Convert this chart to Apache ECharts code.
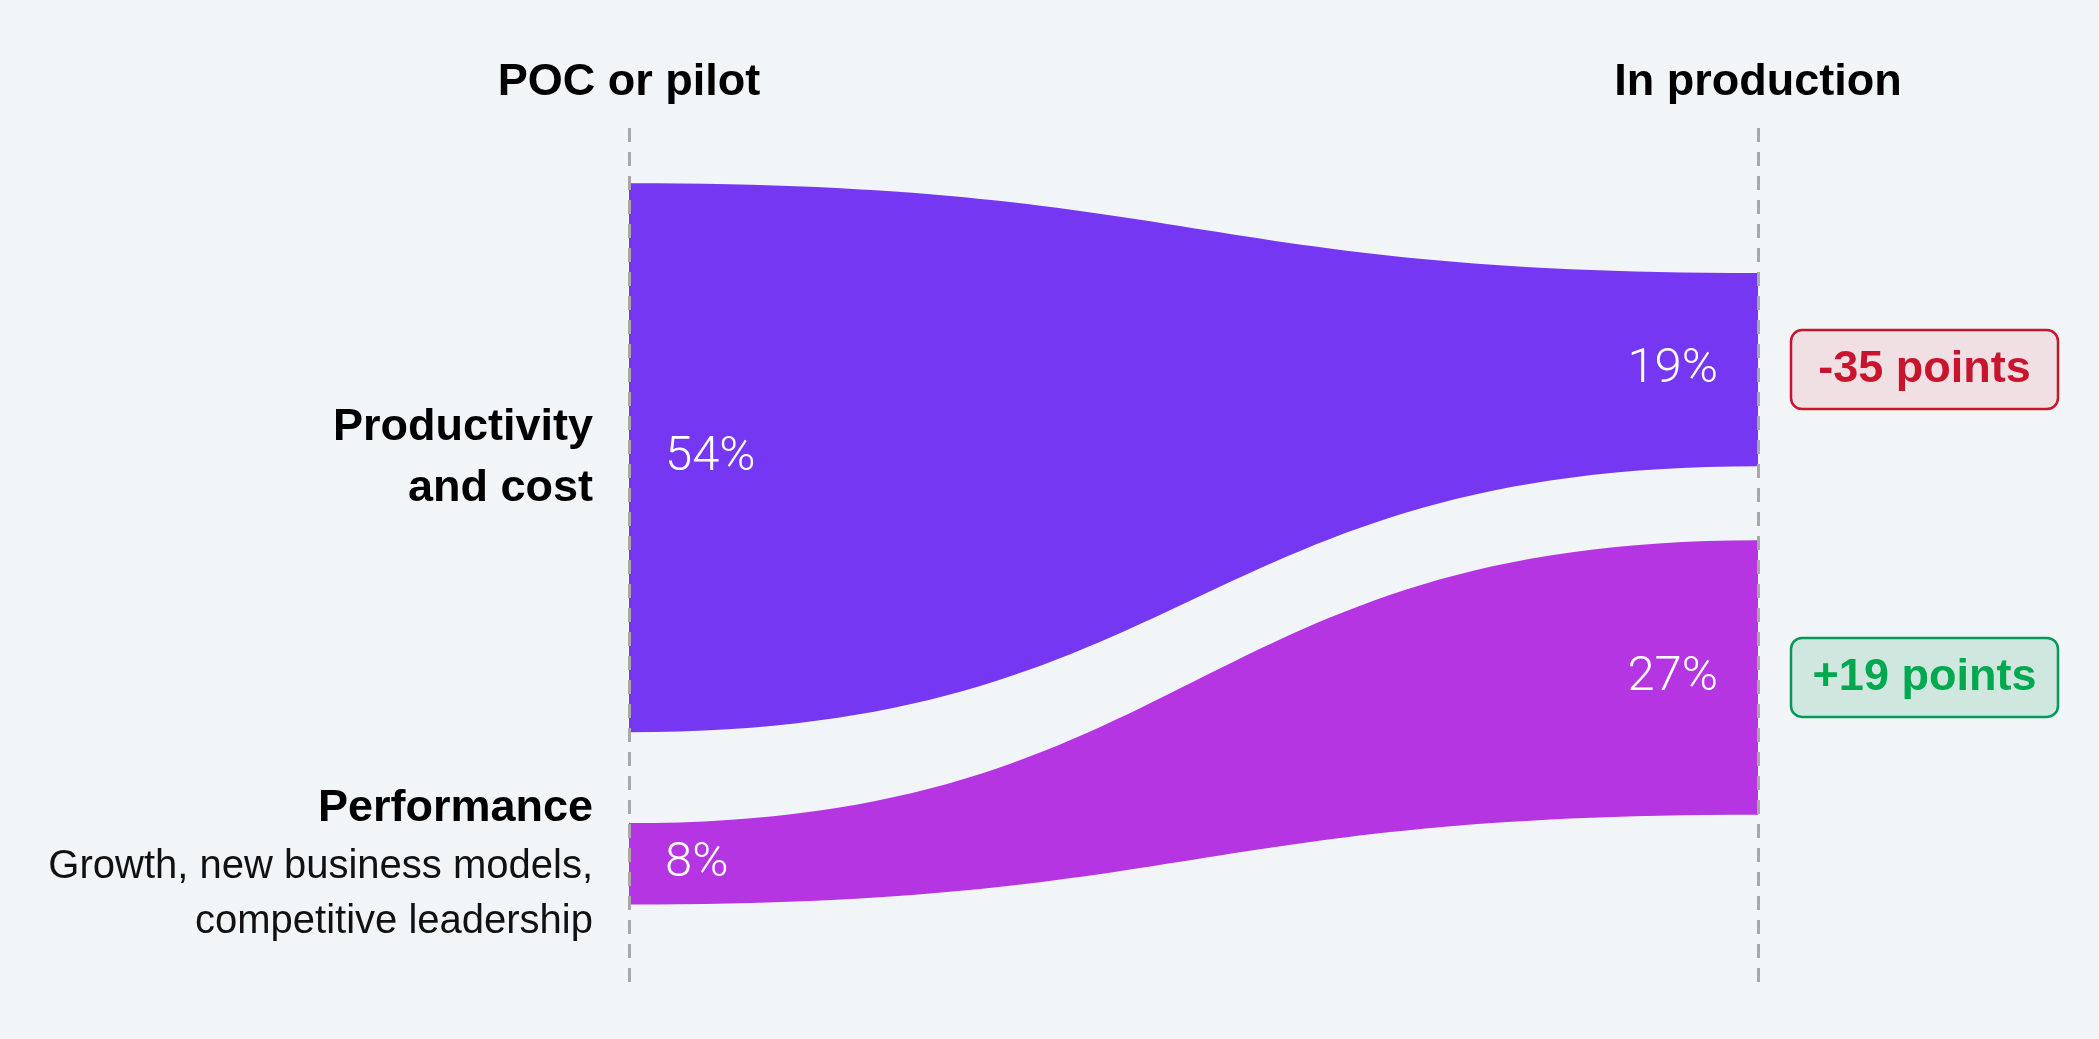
<!DOCTYPE html>
<html>
<head>
<meta charset="UTF-8">
<title>Focus shift</title>
<script src="https://cdn.jsdelivr.net/npm/echarts@6/dist/echarts.min.js"></script>
<style>
  html, body { margin: 0; padding: 0; background: #f2f5f8; }
  #main { width: 2099px; height: 1039px; }
</style>
</head>
<body>
<div id="main"></div>
<script>
// data
var stages = ['POC or pilot', 'In production'];
var groups = ['Productivity\nand cost', 'Performance'];
var groupNotes = ['', 'Growth, new business models,\ncompetitive leadership'];
var pocShare = [54, 8];
var prodShare = [19, 27];
var bandColors = ['#7537f2', '#b435e1'];

// layout (data units = percentage points)
var Y_MAX = 84.2;
var CENTER = 40.9;
var GAP_LEFT = 8.95;
var GAP_RIGHT = 7.28;
var FONT = '"Liberation Sans", Arial, Helvetica, sans-serif';
var LIGHT_FONT = 'Roboto, "Liberation Sans", Arial, sans-serif';

function stackTops(vals, gap) {
  var total = gap * (vals.length - 1);
  vals.forEach(function (v) { total += v; });
  var y = CENTER - total / 2;
  return vals.map(function (v) { var t = y; y += v + gap; return t; });
}
var leftTops = stackTops(pocShare, GAP_LEFT);
var rightTops = stackTops(prodShare, GAP_RIGHT);

var chart = echarts.init(document.getElementById('main'));

function renderBand(params, api) {
  var i = params.dataIndex;
  var lv = api.value(1), rv = api.value(2);
  var p0 = api.coord([0, leftTops[i]]);
  var p1 = api.coord([0, leftTops[i] + lv]);
  var q0 = api.coord([1, rightTops[i]]);
  var q1 = api.coord([1, rightTops[i] + rv]);
  var mx = (p0[0] + q0[0]) / 2;
  var d = 'M' + p0[0] + ' ' + p0[1] +
    ' C' + mx + ' ' + p0[1] + ' ' + mx + ' ' + q0[1] + ' ' + q0[0] + ' ' + q0[1] +
    ' L' + q1[0] + ' ' + q1[1] +
    ' C' + mx + ' ' + q1[1] + ' ' + mx + ' ' + p1[1] + ' ' + p1[0] + ' ' + p1[1] + ' Z';
  var lc = (p0[1] + p1[1]) / 2;
  var rc = (q0[1] + q1[1]) / 2;
  var delta = rv - lv;
  var up = delta > 0;

  var groupText = '{t|' + groups[i].split('\n').join('}\n{t|') + '}';
  if (groupNotes[i]) {
    groupText += '\n{s|' + groupNotes[i].split('\n').join('}\n{s|') + '}';
  }

  var children = [
    { type: 'path', shape: { pathData: d }, style: { fill: bandColors[i] } },
    {
      type: 'text', x: p0[0] - 36, y: lc,
      style: {
        text: groupText, align: 'right', verticalAlign: 'middle',
        rich: {
          t: { fontFamily: FONT, fontSize: 45, fontWeight: 'bold', fill: '#000', lineHeight: 61, align: 'right' },
          s: { fontFamily: FONT, fontSize: 40, fill: '#111', lineHeight: 55, align: 'right' }
        }
      }
    },
    {
      type: 'text', x: p0[0] + 36, y: lc,
      style: { text: lv + '%', fontFamily: LIGHT_FONT, fontWeight: 300, fontSize: 49, fill: '#fff', align: 'left', verticalAlign: 'middle' }
    },
    {
      type: 'text', x: q0[0] - 40, y: rc,
      style: { text: rv + '%', fontFamily: LIGHT_FONT, fontWeight: 300, fontSize: 49, fill: '#fff', align: 'right', verticalAlign: 'middle' }
    },
    {
      type: 'rect',
      shape: { x: q0[0] + 33, y: rc - 39.5, width: 267, height: 79, r: 11 },
      style: { fill: up ? '#cfe7df' : '#f0e0e3', stroke: up ? '#00995a' : '#c8142c', lineWidth: 2.5 }
    },
    {
      type: 'text', x: q0[0] + 33 + 133.5, y: rc,
      style: {
        text: (up ? '+' : '') + delta + ' points', fontFamily: FONT, fontSize: 45, fontWeight: 'bold',
        fill: up ? '#00a84f' : '#c8142c', align: 'center', verticalAlign: 'middle'
      }
    }
  ];
  return { type: 'group', children: children };
}

var option = {
  backgroundColor: '#f2f5f8',
  animation: false,
  grid: { left: 629, right: 341, top: 128, bottom: 55, outerBoundsMode: 'none' },
  xAxis: {
    type: 'value', position: 'top', min: 0, max: 1, interval: 1, z: 5,
    axisLine: { show: false }, axisTick: { show: false },
    axisLabel: {
      show: true, showMinLabel: true, showMaxLabel: true, margin: 23,
      fontFamily: FONT, fontSize: 45, fontWeight: 'bold', color: '#000',
      formatter: function (v) { return stages[Math.round(v)]; }
    },
    splitLine: { show: true, lineStyle: { color: '#a8a8a8', width: 3, type: [14, 10] } }
  },
  yAxis: { type: 'value', inverse: true, min: 0, max: Y_MAX, show: false },
  series: [{
    type: 'custom',
    renderItem: renderBand,
    encode: { x: 0, y: 1 },
    data: groups.map(function (g, i) { return [i, pocShare[i], prodShare[i]]; })
  }]
};

chart.setOption(option);
</script>
</body>
</html>
